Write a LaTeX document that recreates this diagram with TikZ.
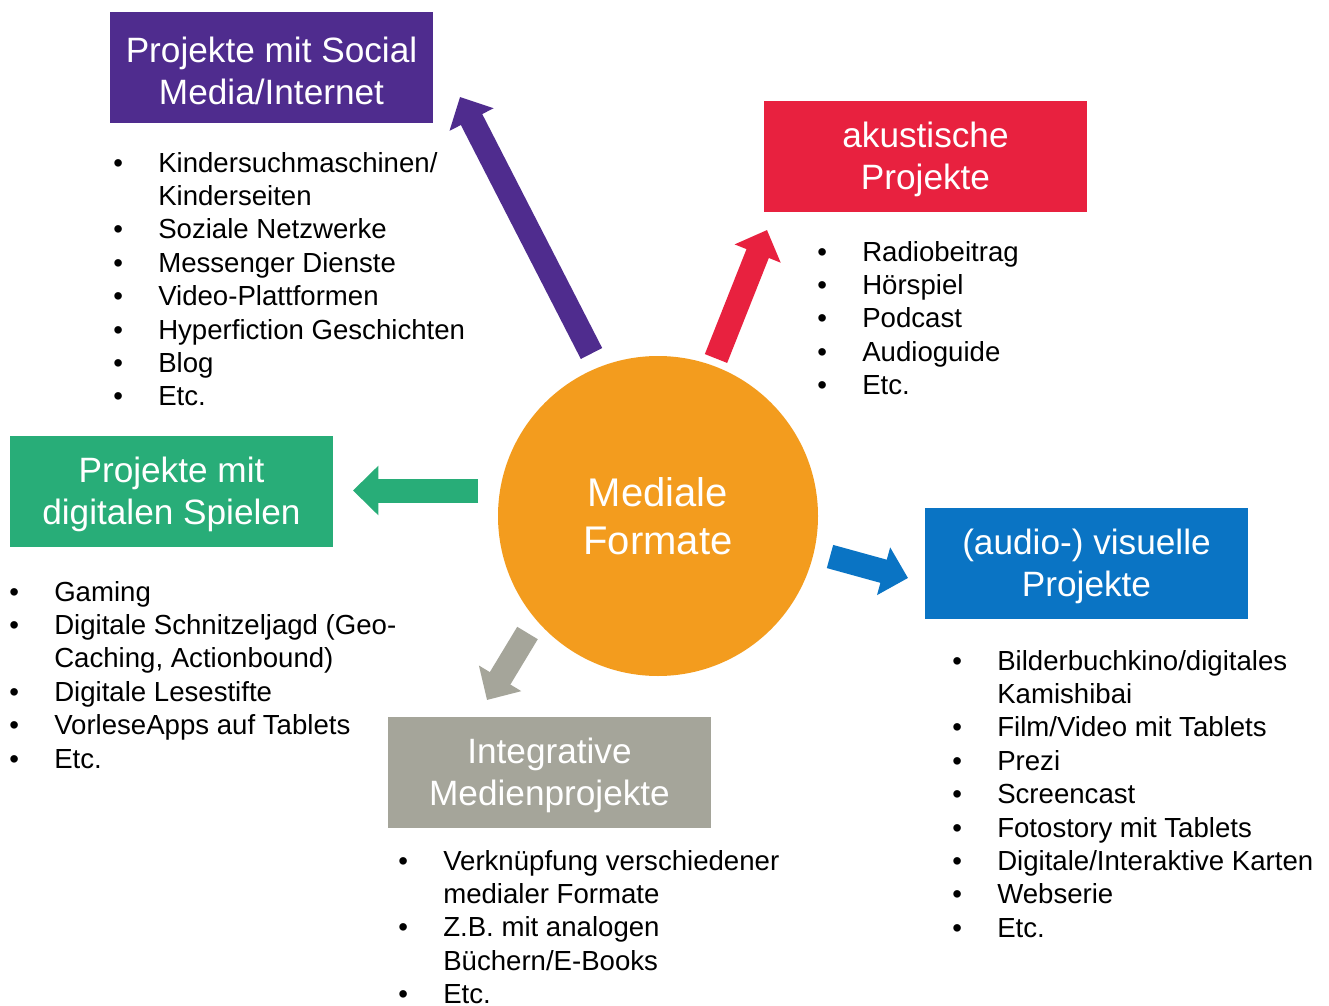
\documentclass[tikz,border=0pt]{standalone}
\usepackage{fontspec}
\setmainfont{Liberation Sans}
\usetikzlibrary{arrows.meta}
\definecolor{cPurple}{HTML}{4F2C8E}
\definecolor{cRed}{HTML}{E8213F}
\definecolor{cGreen}{HTML}{28AD78}
\definecolor{cBlue}{HTML}{0A74C4}
\definecolor{cGray}{HTML}{A5A59A}
\definecolor{cOrange}{HTML}{F39C1E}
\tikzset{
  headbox/.style={minimum width=242.25pt, minimum height=83.25pt, inner sep=0pt},
  headtext/.style={inner sep=0pt, text=white, align=center,
    font=\fontsize{26.4pt}{31.5pt}\selectfont},
  item/.style={anchor=base west, inner sep=0pt, font=\fontsize{20.7pt}{25pt}\selectfont},
  blockarrow/.style={line width=18pt, -{Triangle[width=36pt,length=19pt]}},
}
% bullet list: name prefix, text x, first baseline y, {flag/text,...}
\newcommand\itemlist[4]{%
  \foreach \b/\t [count=\i from 0] in {#4} {
    \node[item, name=#1\i] at (#2, #3+33.4*\i) {\t};
    \ifnum\b=1 \node[item, name=#1b\i] at (#2-45, #3+33.4*\i) {\textbullet};\fi
  }}
% coloured topic box with its two-line title
\newcommand\topicbox[4]{% name, colour, position, title
  \node[headbox, fill=#2] (#1) at #3 {};
  \node[headtext] (#1-t) at ([yshift=-2.5pt]#1.center) {#4};}
\begin{document}
\begin{tikzpicture}[x=0.75pt, y=-0.75pt]
\fill[white] (0,0) rectangle (1329,1006);
\useasboundingbox (0,0) rectangle (1329,1006);

% centre
\node[circle, fill=cOrange, minimum size=240pt, inner sep=0pt, text=white, align=center,
  font=\fontsize{30pt}{36pt}\selectfont] (core) at (658,516) {Mediale\\Formate};

% topic boxes
\topicbox{social}{cPurple}{(271.5,68)}{Projekte mit Social\\Media/Internet}
\topicbox{audio}{cRed}{(925.5,156.5)}{akustische\\Projekte}
\topicbox{games}{cGreen}{(171.5,491)}{Projekte mit\\digitalen Spielen}
\topicbox{visual}{cBlue}{(1086.5,563)}{(audio-) visuelle\\Projekte}
\topicbox{integr}{cGray}{(549.5,772.5)}{Integrative\\Medienprojekte}

% arrows out of the centre
\coordinate (pT) at (591.5,353.5); \coordinate (pH) at (460,97);
\coordinate (rT) at (716,358.5);   \coordinate (rH) at (767,230);
\coordinate (gT) at (478,490.5);   \coordinate (gH) at (353,490.5);
\coordinate (yT) at (527.5,633);   \coordinate (yH) at (487,700);
\coordinate (bT) at (830,556.5);   \coordinate (bH) at (908,578);
\draw[blockarrow, cPurple] (pT) -- (pH);
\draw[blockarrow, cRed] (rT) -- (rH);
\draw[blockarrow, cGreen] (gT) -- (gH);
\draw[blockarrow, cGray] (yT) -- (yH);
\draw[blockarrow, cBlue] (bT) -- (bH);

% lists
\itemlist{ls}{158}{172}{1/{Kindersuchmaschinen/}, 0/Kinderseiten, 1/Soziale Netzwerke,
  1/Messenger Dienste, 1/Video-Plattformen, 1/Hyperfiction Geschichten, 1/Blog, 1/Etc.}
\itemlist{la}{862}{261}{1/Radiobeitrag, 1/Hörspiel, 1/Podcast, 1/Audioguide, 1/Etc.}
\itemlist{lg}{54}{601}{1/Gaming, 1/Digitale Schnitzeljagd (Geo-, 0/{Caching, Actionbound)},
  1/Digitale Lesestifte, 1/VorleseApps auf Tablets, 1/Etc.}
\itemlist{li}{443}{870}{1/Verknüpfung verschiedener, 0/medialer Formate, 1/Z.B. mit analogen,
  0/{Büchern/E-Books}, 1/Etc.}
\itemlist{lv}{997}{670}{1/{Bilderbuchkino/digitales}, 0/Kamishibai, 1/{Film/Video mit Tablets},
  1/Prezi, 1/Screencast, 1/Fotostory mit Tablets, 1/{Digitale/Interaktive Karten}, 1/Webserie, 1/Etc.}
\end{tikzpicture}
\end{document}
